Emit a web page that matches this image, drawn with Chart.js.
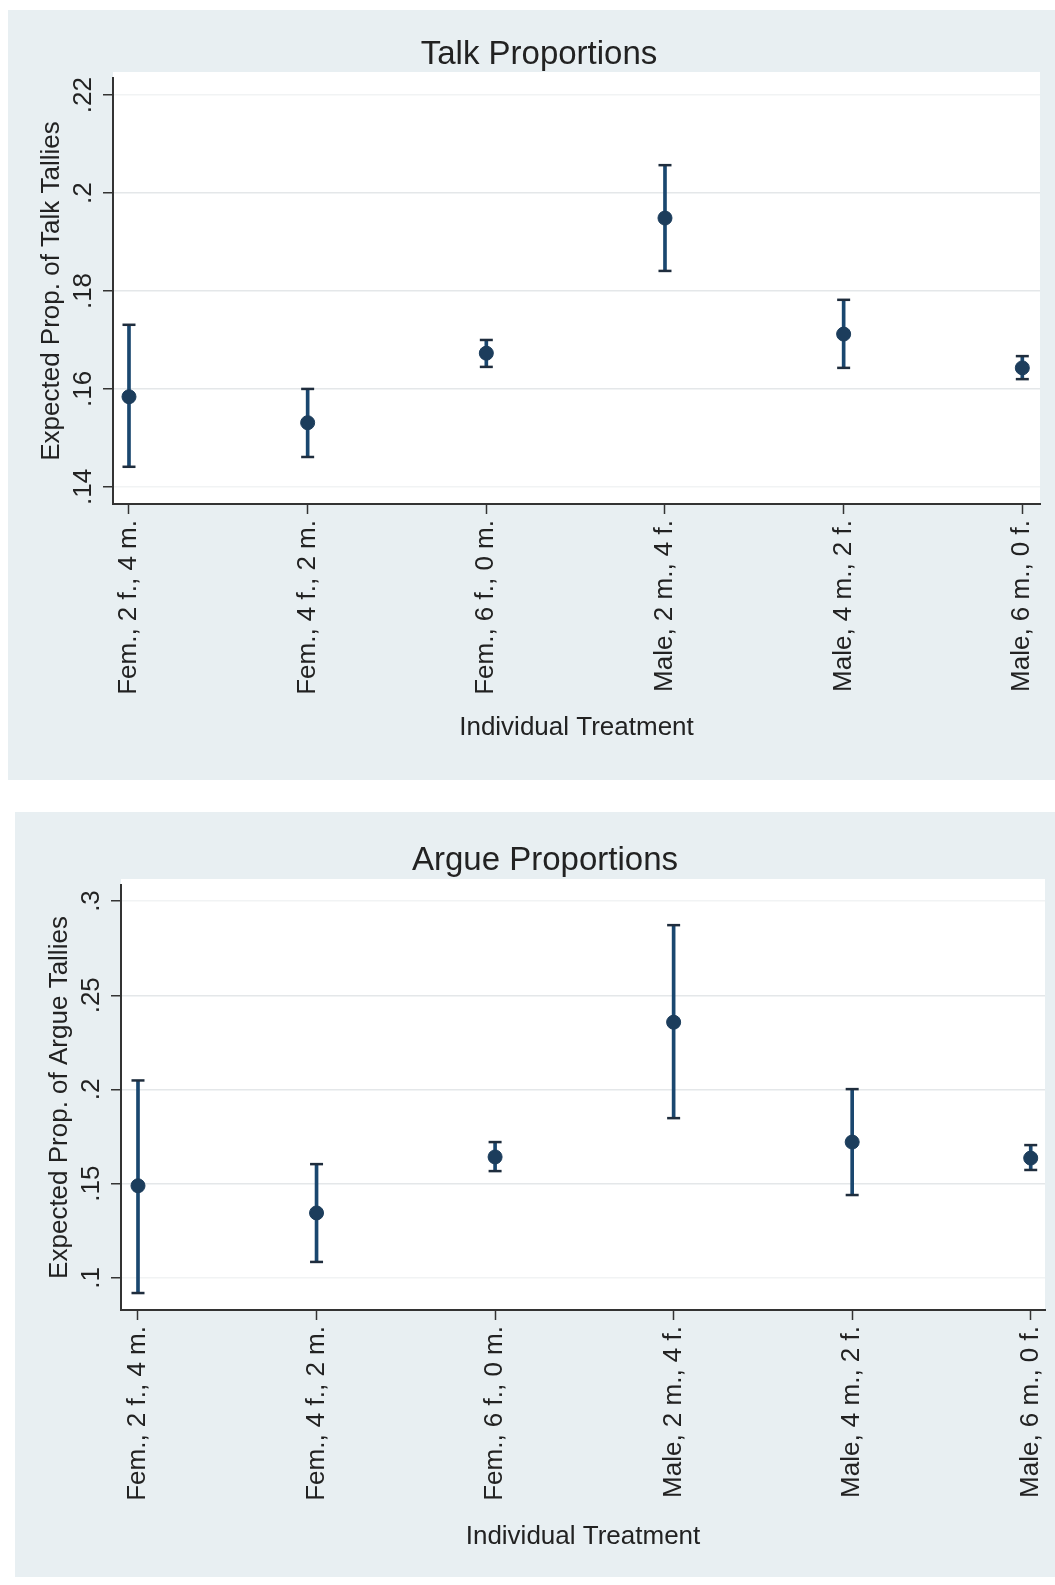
<!DOCTYPE html>
<html>
<head>
<meta charset="utf-8">
<script src="https://cdn.jsdelivr.net/npm/chart.js@4/dist/chart.umd.min.js"></script>
<style>
  body { margin: 0; background: #fff; width: 1055px; height: 1585px; position: relative; overflow: hidden; }
  .panel { position: absolute; background: #e8eff2; }
  #p1 { left: 8px; top: 10px; width: 1047px; height: 770px; }
  #p2 { left: 15px; top: 812px; width: 1040px; height: 765px; }
  canvas { display: block; }
</style>
</head>
<body>
<div class="panel" id="p1"><canvas id="talkChart" width="1047" height="770"></canvas></div>
<div class="panel" id="p2"><canvas id="argueChart" width="1040" height="765"></canvas></div>
<script>
const categories = ["Fem., 2 f., 4 m.", "Fem., 4 f., 2 m.", "Fem., 6 f., 0 m.", "Male, 2 m., 4 f.", "Male, 4 m., 2 f.", "Male, 6 m., 0 f."];

const talkMean = [0.1584, 0.1531, 0.1673, 0.1949, 0.1712, 0.1643];
const talkLow = [0.1441, 0.1461, 0.1645, 0.1841, 0.1643, 0.1620];
const talkHigh = [0.1731, 0.1600, 0.1700, 0.2057, 0.1782, 0.1667];
const talkTicks = [0.14, 0.16, 0.18, 0.2, 0.22];

const argueMean = [0.1489, 0.1345, 0.1642, 0.2357, 0.1721, 0.1636];
const argueLow = [0.0920, 0.1085, 0.1567, 0.1848, 0.1440, 0.1573];
const argueHigh = [0.2048, 0.1604, 0.1721, 0.2872, 0.2002, 0.1705];
const argueTicks = [0.1, 0.15, 0.2, 0.25, 0.3];

const FONT = "'Liberation Sans', Arial, Helvetica, sans-serif";
const TEXT = "#222";

// white plot region behind the marks
const plotBackground = {
  id: "plotBackground",
  beforeDraw(chart) {
    const a = chart.chartArea;
    const ctx = chart.ctx;
    ctx.save();
    ctx.fillStyle = "#fff";
    ctx.fillRect(a.left, a.top - 6, a.right - a.left, a.bottom - a.top + 6);
    ctx.restore();
  }
};

// graph title, centred on the graph region rather than the plot
const panelTitle = {
  id: "panelTitle",
  afterDraw(chart, args, opts) {
    const ctx = chart.ctx;
    ctx.save();
    ctx.font = "33px " + FONT;
    ctx.fillStyle = TEXT;
    ctx.textAlign = "center";
    ctx.textBaseline = "middle";
    ctx.fillText(opts.text, opts.x, opts.y);
    ctx.restore();
  }
};

const fmt = (v) => String(+Number(v).toFixed(3)).replace(/^0\./, ".");

function makeChart(id, mean, low, high, yTicks, o) {
  new Chart(document.getElementById(id), {
    type: "scatter",
    data: {
      datasets: [
        {
          type: "scatter",
          data: mean.map((v, i) => ({ x: i, y: v })),
          pointRadius: 7,
          pointBackgroundColor: "#1c3d5c",
          pointBorderColor: "#1c3d5c",
          pointBorderWidth: 1,
          order: 0,
        },
        {
          type: "scatter",
          data: low.map((v, i) => ({ x: i, y: v })).concat(high.map((v, i) => ({ x: i, y: v }))),
          pointStyle: "line",
          pointRadius: 6.5,
          pointBorderWidth: 2.5,
          pointBorderColor: "#1f2d3d",
          order: 1,
        },
        {
          type: "bar",
          data: low.map((v, i) => ({ x: i, y: [v, high[i]] })),
          barThickness: 3,
          backgroundColor: "#1a476f",
          order: 2,
        },
      ],
    },
    options: {
      responsive: false,
      animation: false,
      events: [],
      layout: { padding: { left: 0, top: o.top, right: o.right, bottom: 0 } },
      plugins: {
        legend: { display: false },
        tooltip: { enabled: false },
        panelTitle: { text: o.title, x: o.titleX, y: o.titleY },
      },
      scales: {
        x: {
          type: "linear",
          offset: false,
          min: o.xMin,
          max: o.xMax,
          afterBuildTicks: (s) => { s.ticks = categories.map((c, i) => ({ value: i })); },
          afterFit: (s) => {
            s.height = o.xHeight;
            // labels fit inside the panel, no extra side margin needed
            s.paddingLeft = 0;
            s.paddingRight = 0;
          },
          ticks: {
            callback: (v) => categories[v],
            minRotation: 90,
            maxRotation: 90,
            autoSkip: false,
            padding: 6,
            color: TEXT,
            font: { family: FONT, size: 26 },
          },
          grid: { offset: false, drawOnChartArea: false, tickLength: 10, tickColor: "#333", tickWidth: 1.5 },
          border: { display: true, color: "#333", width: 2 },
          title: {
            display: true,
            text: "Individual Treatment",
            color: TEXT,
            font: { family: FONT, size: 26 },
            padding: { top: 0, bottom: o.xTitlePad },
          },
        },
        y: {
          min: o.yMin,
          max: o.yMax,
          afterBuildTicks: (s) => { s.ticks = yTicks.map((v) => ({ value: v })); },
          afterFit: (s) => {
            s.width = o.yWidth;
            s.paddingTop = 0;
            s.paddingBottom = 0;
          },
          ticks: {
            callback: fmt,
            minRotation: 90,
            maxRotation: 90,
            crossAlign: "center",
            autoSkip: false,
            padding: 1,
            color: TEXT,
            font: { family: FONT, size: 26 },
          },
          grid: {
            // the outermost grid lines are barely visible in the original
            color: (c) => (c.index === 0 || c.index === yTicks.length - 1 ? "#f1f3f4" : "#e4e7e9"),
            lineWidth: 1.5,
            tickLength: 10,
            tickColor: "#333",
            tickWidth: 1.5,
          },
          border: { display: true, color: "#333", width: 2 },
          title: {
            display: true,
            text: o.yTitle,
            color: TEXT,
            font: { family: FONT, size: 26 },
            padding: { top: o.yTitlePad, bottom: 0 },
          },
        },
      },
    },
    plugins: [plotBackground, panelTitle],
  });
}

makeChart("talkChart", talkMean, talkLow, talkHigh, talkTicks, {
  title: "Talk Proportions", titleX: 531, titleY: 45,
  yTitle: "Expected Prop. of Talk Tallies",
  top: 68, right: 15, yWidth: 105, xHeight: 276,
  xTitlePad: 37, yTitlePad: 28,
  xMin: -0.0895, xMax: 5.099, yMin: 0.1365, yMax: 0.2235,
});

makeChart("argueChart", argueMean, argueLow, argueHigh, argueTicks, {
  title: "Argue Proportions", titleX: 530, titleY: 49,
  yTitle: "Expected Prop. of Argue Tallies",
  top: 73, right: 10, yWidth: 106, xHeight: 267,
  xTitlePad: 25, yTitlePad: 29,
  xMin: -0.0952, xMax: 5.08, yMin: 0.083, yMax: 0.3085,
});
</script>
</body>
</html>
